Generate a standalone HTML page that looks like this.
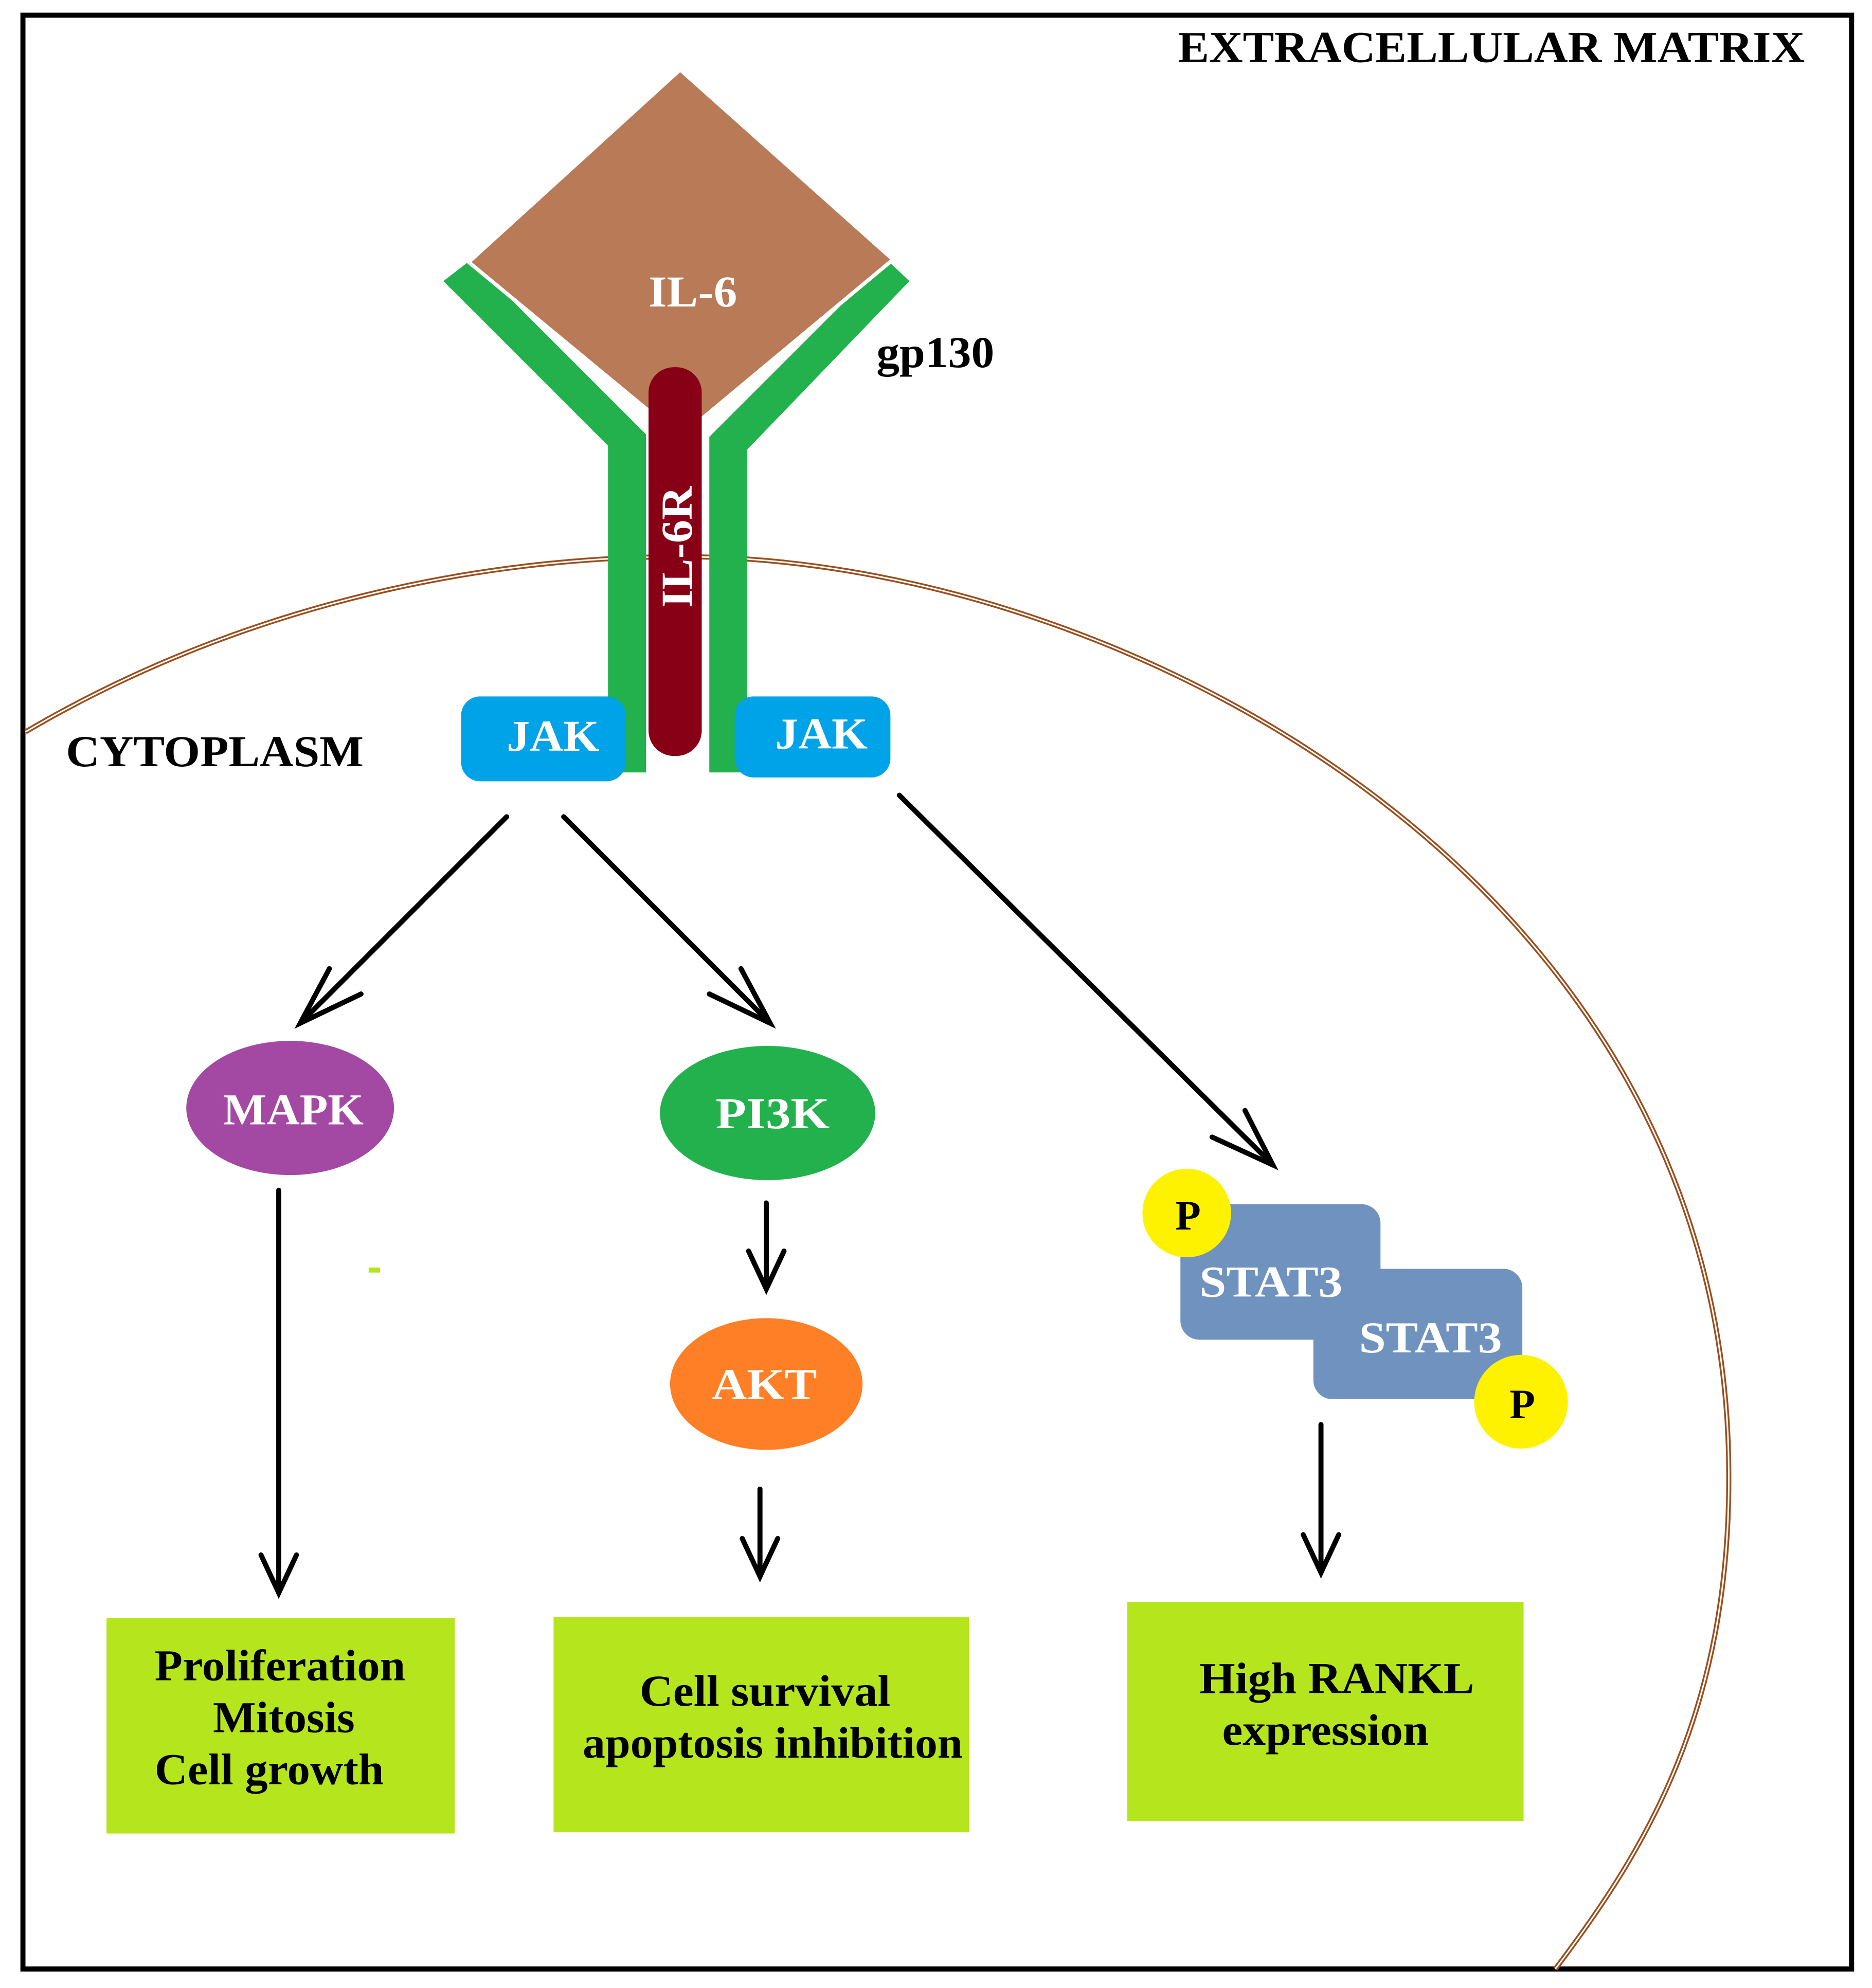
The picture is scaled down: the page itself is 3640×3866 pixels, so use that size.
<!DOCTYPE html>
<html><head><meta charset="utf-8"><style>
html,body{margin:0;padding:0;background:#fff;}
svg{display:block;}
text{font-family:"Liberation Serif",serif;font-weight:bold;}
</style></head><body>
<svg width="3640" height="3866" viewBox="0 0 1478 1570" xmlns="http://www.w3.org/2000/svg">
<rect x="0" y="0" width="1478" height="1570" fill="#fff"/>
<rect x="18" y="12" width="1444" height="1543" fill="none" stroke="#000" stroke-width="4"/>
<text x="930" y="49" font-size="35" fill="#000" textLength="495" lengthAdjust="spacingAndGlyphs">EXTRACELLULAR MATRIX</text>
<path d="M20,578 C200,472 400,436 560,440 C900,450 1362,700 1365,1160 C1367,1350 1300,1460 1228,1555" fill="none" stroke="#9a4e1e" stroke-width="4"/>
<path d="M20,578 C200,472 400,436 560,440 C900,450 1362,700 1365,1160 C1367,1350 1300,1460 1228,1555" fill="none" stroke="#fff" stroke-width="1.2"/>
<polygon points="350,222 372,205 510,343 510,610 480,610 480,352" fill="#22B14C"/>
<polygon points="718,222 700,205 560,345 560,610 590,610 590,355" fill="#22B14C"/>
<polygon points="537,55 705,205 537,345 370,207" fill="#B97A57" stroke="#fff" stroke-width="3"/>
<text x="512" y="242" font-size="35" fill="#fff" textLength="70" lengthAdjust="spacingAndGlyphs">IL-6</text>
<text x="692" y="290" font-size="35" fill="#000" textLength="93" lengthAdjust="spacingAndGlyphs">gp130</text>
<rect x="512" y="290" width="42" height="307" rx="20" fill="#880015"/>
<text transform="translate(546,480) rotate(-90)" font-size="35" fill="#fff" textLength="96" lengthAdjust="spacingAndGlyphs">IL-6R</text>
<rect x="364" y="550" width="130" height="67" rx="15" fill="#00A2E8"/>
<text x="400" y="593" font-size="35" fill="#fff" textLength="73" lengthAdjust="spacingAndGlyphs">JAK</text>
<rect x="580" y="550" width="123" height="64" rx="15" fill="#00A2E8"/>
<text x="612" y="591" font-size="35" fill="#fff" textLength="73" lengthAdjust="spacingAndGlyphs">JAK</text>
<text x="52" y="605" font-size="35" fill="#000" textLength="235" lengthAdjust="spacingAndGlyphs">CYTOPLASM</text>
<g stroke="#000" stroke-width="4" fill="none" stroke-linecap="round">
<line x1="400" y1="645" x2="237" y2="808"/><polyline points="260,765 237,808 285,785"/>
<line x1="445" y1="645" x2="608" y2="808"/><polyline points="585,765 608,808 560,785"/>
<line x1="710" y1="628" x2="1005" y2="920"/><polyline points="983,877 1005,920 957,898"/>
<line x1="220" y1="940" x2="220" y2="1258"/><polyline points="206,1228 220,1258 234,1228"/>
<line x1="605" y1="950" x2="605" y2="1018"/><polyline points="591,988 605,1018 619,988"/>
<line x1="600" y1="1176" x2="600" y2="1245"/><polyline points="586,1215 600,1245 614,1215"/>
<line x1="1043" y1="1125" x2="1043" y2="1242"/><polyline points="1029,1212 1043,1242 1057,1212"/>
</g>
<ellipse cx="229" cy="875" rx="82" ry="53" fill="#A349A4"/>
<text x="176" y="888" font-size="35" fill="#fff" textLength="111" lengthAdjust="spacingAndGlyphs">MAPK</text>
<ellipse cx="606" cy="879" rx="85" ry="53" fill="#22B14C"/>
<text x="565" y="891" font-size="35" fill="#fff" textLength="90" lengthAdjust="spacingAndGlyphs">PI3K</text>
<ellipse cx="605" cy="1093" rx="76" ry="52" fill="#FF7F27"/>
<text x="562" y="1105" font-size="35" fill="#fff" textLength="83" lengthAdjust="spacingAndGlyphs">AKT</text>
<rect x="291" y="1001" width="9" height="4" fill="#B5E61D"/>
<rect x="932" y="951" width="158" height="107" rx="15" fill="#7092BE"/>
<rect x="1037" y="1002" width="165" height="103" rx="15" fill="#7092BE"/>
<text x="947" y="1024" font-size="35" fill="#fff" textLength="113" lengthAdjust="spacingAndGlyphs">STAT3</text>
<text x="1073" y="1068" font-size="35" fill="#fff" textLength="113" lengthAdjust="spacingAndGlyphs">STAT3</text>
<circle cx="937" cy="958" r="35" fill="#FFF200"/>
<text x="938" y="971" font-size="33" fill="#000" text-anchor="middle">P</text>
<circle cx="1201" cy="1107" r="37" fill="#FFF200"/>
<text x="1202" y="1120" font-size="33" fill="#000" text-anchor="middle">P</text>
<rect x="84" y="1278" width="275" height="170" fill="#B5E61D"/>
<text x="122" y="1327" font-size="35" fill="#000" textLength="198" lengthAdjust="spacingAndGlyphs">Proliferation</text>
<text x="168" y="1368" font-size="35" fill="#000" textLength="112" lengthAdjust="spacingAndGlyphs">Mitosis</text>
<text x="122" y="1409" font-size="35" fill="#000" textLength="181" lengthAdjust="spacingAndGlyphs">Cell growth</text>
<rect x="437" y="1277" width="328" height="170" fill="#B5E61D"/>
<text x="505" y="1347" font-size="35" fill="#000" textLength="198" lengthAdjust="spacingAndGlyphs">Cell survival</text>
<text x="460" y="1388" font-size="35" fill="#000" textLength="300" lengthAdjust="spacingAndGlyphs">apoptosis inhibition</text>
<rect x="890" y="1265" width="313" height="173" fill="#B5E61D"/>
<text x="947" y="1337" font-size="35" fill="#000" textLength="217" lengthAdjust="spacingAndGlyphs">High RANKL</text>
<text x="965" y="1378" font-size="35" fill="#000" textLength="163" lengthAdjust="spacingAndGlyphs">expression</text>
</svg>
</body></html>
